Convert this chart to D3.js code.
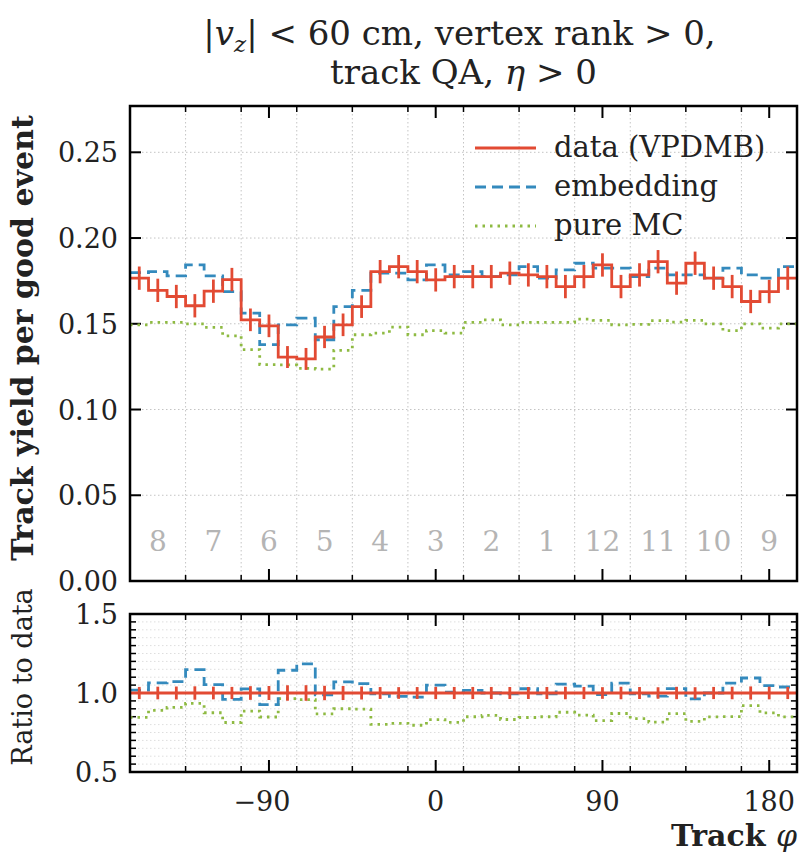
<!DOCTYPE html>
<html>
<head>
<meta charset="utf-8">
<script src="https://cdn.jsdelivr.net/npm/d3@7"></script>
<style>
body { margin: 0; background: #fff; }
text { font-family: "DejaVu Serif", "Liberation Serif", serif; }
</style>
</head>
<body>
<div class="chart-wrapper"></div>
<script>

// bin edges in degrees (10 degree bins from -165 to 195)
const edges = d3.range(-165, 196, 10)

const dataVals = [0.1766, 0.1695, 0.1659, 0.1605, 0.1690, 0.1758, 0.1523, 0.1488, 0.1306, 0.1295, 0.1423, 0.1494,
  0.1600, 0.1804, 0.1833, 0.1804, 0.1756, 0.1775, 0.1775, 0.1775, 0.1795, 0.1785, 0.1775, 0.1717,
  0.1775, 0.1843, 0.1717, 0.1785, 0.1862, 0.1737, 0.1853, 0.1766, 0.1717, 0.1630, 0.1688, 0.1766]
const dataErr = [0.0068, 0.0068, 0.0068, 0.0068, 0.0068, 0.0068, 0.0066, 0.0066, 0.0064, 0.0064, 0.0065, 0.0066,
  0.0066, 0.0068, 0.0068, 0.0068, 0.0068, 0.0068, 0.0068, 0.0068, 0.0068, 0.0068, 0.0068, 0.0068,
  0.0068, 0.0068, 0.0068, 0.0068, 0.0068, 0.0068, 0.0068, 0.0068, 0.0068, 0.0068, 0.0068, 0.0068]
const embVals = [0.1798, 0.1804, 0.1779, 0.1843, 0.1779, 0.1688, 0.1562, 0.1378, 0.1494, 0.1533, 0.1407, 0.1600,
  0.1695, 0.1795, 0.1795, 0.1756, 0.1843, 0.1785, 0.1804, 0.1775, 0.1785, 0.1833, 0.1766, 0.1814,
  0.1853, 0.1824, 0.1824, 0.1775, 0.1824, 0.1785, 0.1785, 0.1766, 0.1824, 0.1785, 0.1766, 0.1833]
const mcVals = [0.1494, 0.1508, 0.1508, 0.1500, 0.1479, 0.1430, 0.1349, 0.1262, 0.1260, 0.1240, 0.1235, 0.1345,
  0.1436, 0.1446, 0.1480, 0.1436, 0.1460, 0.1446, 0.1508, 0.1523, 0.1494, 0.1508, 0.1508, 0.1508,
  0.1527, 0.1520, 0.1494, 0.1496, 0.1518, 0.1510, 0.1520, 0.1500, 0.1460, 0.1500, 0.1475, 0.1500]

const sectorLabels = ['8', '7', '6', '5', '4', '3', '2', '1', '12', '11', '10', '9']
const sectorCenters = [-150, -120, -90, -60, -30, 0, 30, 60, 90, 120, 150, 180]
const sectorBounds = [-135, -105, -75, -45, -15, 15, 45, 75, 105, 135, 165]
const xMajor = [-90, 0, 90, 180]
const yTopTicks = [0, 0.05, 0.10, 0.15, 0.20, 0.25]
const yBotTicks = [0.5, 1.0, 1.5]

const seriesNames = ['data (VPDMB)', 'embedding', 'pure MC']
const red = '#E24A33', blue = '#348ABD', green = '#8EBA42'
const embDash = '11,6', mcDash = '2.5,5'

const width = 801, height = 855
const L = 130, R = 797, T1 = 106, B1 = 581, T2 = 614, B2 = 772

const svg = d3.select('.chart-wrapper')
.append('svg')
.attr('width', width)
.attr('height', height)

const x = d3.scaleLinear().domain([-165, 195]).range([L, R])
const yTop = d3.scaleLinear().domain([0, 0.277]).range([B1, T1])
const yBot = d3.scaleLinear().domain([0.5, 1.5]).range([B2, T2])

const ratioEmb = embVals.map((d, i) => d / dataVals[i])
const ratioMc = mcVals.map((d, i) => d / dataVals[i])
const ones = dataVals.map(() => 1)
const ratioErr = dataErr.map((d, i) => d / dataVals[i])

const grid = '#c4c4c4'

function stepPath(vals, y) {
  const pts = vals.map((v, i) => [edges[i], v])
  pts.push([edges[edges.length - 1], vals[vals.length - 1]])
  return d3.line().x(d => x(d[0])).y(d => y(d[1])).curve(d3.curveStepAfter)(pts)
}

function panel(top, bottom, y, yTicks, minorY) {
  const g = svg.append('g')
  g.append('defs').append('clipPath').attr('id', 'clip' + top)
  .append('rect').attr('x', L).attr('y', top).attr('width', R - L).attr('height', bottom - top)

  if (minorY) {
    g.append('g').selectAll('line').data(minorY).join('line')
    .attr('x1', L).attr('x2', R)
    .attr('y1', d => y(d)).attr('y2', d => y(d))
    .attr('stroke', '#dedede').attr('stroke-width', 1).attr('stroke-dasharray', '1.5,2.5')
  }
  g.append('g').selectAll('line').data(yTicks).join('line')
  .attr('x1', L).attr('x2', R)
  .attr('y1', d => y(d)).attr('y2', d => y(d))
  .attr('stroke', grid).attr('stroke-width', 1).attr('stroke-dasharray', '1.5,2.5')
  g.append('g').selectAll('line').data(sectorBounds).join('line')
  .attr('x1', d => x(d)).attr('x2', d => x(d))
  .attr('y1', top).attr('y2', bottom)
  .attr('stroke', grid).attr('stroke-width', 1).attr('stroke-dasharray', '1.5,2.5')

  // inward ticks on all four sides
  const ticks = g.append('g').attr('stroke', '#000')
  xMajor.forEach(v => {
    ticks.append('line').attr('x1', x(v)).attr('x2', x(v)).attr('y1', bottom).attr('y2', bottom - 12).attr('stroke-width', 2)
    ticks.append('line').attr('x1', x(v)).attr('x2', x(v)).attr('y1', top).attr('y2', top + 12).attr('stroke-width', 2)
  })
  sectorBounds.forEach(v => {
    ticks.append('line').attr('x1', x(v)).attr('x2', x(v)).attr('y1', bottom).attr('y2', bottom - 6).attr('stroke-width', 1.5)
    ticks.append('line').attr('x1', x(v)).attr('x2', x(v)).attr('y1', top).attr('y2', top + 6).attr('stroke-width', 1.5)
  })
  yTicks.forEach(v => {
    ticks.append('line').attr('x1', L).attr('x2', L + 11).attr('y1', y(v)).attr('y2', y(v)).attr('stroke-width', 2)
    ticks.append('line').attr('x1', R).attr('x2', R - 11).attr('y1', y(v)).attr('y2', y(v)).attr('stroke-width', 2)
  })
  if (minorY) {
    minorY.forEach(v => {
      ticks.append('line').attr('x1', L).attr('x2', L + 6).attr('y1', y(v)).attr('y2', y(v)).attr('stroke-width', 1.5)
      ticks.append('line').attr('x1', R).attr('x2', R - 6).attr('y1', y(v)).attr('y2', y(v)).attr('stroke-width', 1.5)
    })
  }
  return g
}

const gTop = panel(T1, B1, yTop, yTopTicks.slice(1), null)
const minorBot = d3.range(0.55, 1.5, 0.05).filter(v => Math.abs(v - 1) > 0.01)
const gBot = panel(T2, B2, yBot, yBotTicks, minorBot)

// sector numbers
gTop.append('g').selectAll('text').data(sectorLabels).join('text')
.attr('x', (d, i) => x(sectorCenters[i]))
.attr('y', 551)
.attr('text-anchor', 'middle')
.attr('fill', '#b4b4b4')
.attr('font-size', 28)
.text(d => d)

function drawSeries(g, y, clip, emb, mc, dat, err) {
  const s = g.append('g').attr('clip-path', 'url(#' + clip + ')').attr('fill', 'none')
  s.append('path').attr('d', stepPath(mc, y))
  .attr('stroke', green).attr('stroke-width', 2.8).attr('stroke-dasharray', mcDash)
  s.append('path').attr('d', stepPath(emb, y))
  .attr('stroke', blue).attr('stroke-width', 2.8).attr('stroke-dasharray', embDash)
  s.append('path').attr('d', stepPath(dat, y))
  .attr('stroke', red).attr('stroke-width', 2.8)
  s.append('g').selectAll('line').data(dat).join('line')
  .attr('x1', (d, i) => x((edges[i] + edges[i + 1]) / 2))
  .attr('x2', (d, i) => x((edges[i] + edges[i + 1]) / 2))
  .attr('y1', (d, i) => y(d - err[i]))
  .attr('y2', (d, i) => y(d + err[i]))
  .attr('stroke', red).attr('stroke-width', 2.8)
}

drawSeries(gTop, yTop, 'clip' + T1, embVals, mcVals, dataVals, dataErr)
drawSeries(gBot, yBot, 'clip' + T2, ratioEmb, ratioMc, ones, ratioErr)

// frames
;[[T1, B1], [T2, B2]].forEach(p => {
  svg.append('rect').attr('x', L).attr('y', p[0]).attr('width', R - L).attr('height', p[1] - p[0])
  .attr('fill', 'none').attr('stroke', '#000').attr('stroke-width', 2.5)
})

// tick labels
svg.append('g').selectAll('text').data(yTopTicks).join('text')
.attr('x', L - 12).attr('y', d => yTop(d) + 10)
.attr('text-anchor', 'end').attr('font-size', 27).attr('fill', '#222')
.text(d => d3.format('.2f')(d))

svg.append('g').selectAll('text').data(yBotTicks).join('text')
.attr('x', L - 12).attr('y', d => yBot(d) + 10)
.attr('text-anchor', 'end').attr('font-size', 27).attr('fill', '#222')
.text(d => d3.format('.1f')(d))

svg.append('g').selectAll('text').data(xMajor).join('text')
.attr('x', d => x(d) - (d < 0 ? 7 : 0)).attr('y', 811)
.attr('text-anchor', 'middle').attr('font-size', 27).attr('fill', '#222')
.text(d => d < 0 ? '\u2212' + Math.abs(d) : d)

// axis titles
svg.append('text')
.attr('transform', 'translate(33,338) rotate(-90)')
.attr('text-anchor', 'middle').attr('font-size', 30).attr('font-weight', 'bold').attr('fill', '#222')
.text('Track yield per good event')

svg.append('text')
.attr('transform', 'translate(32,677) rotate(-90)')
.attr('text-anchor', 'middle').attr('font-size', 27).attr('fill', '#222')
.text('Ratio to data')

const xt = svg.append('text')
.attr('x', R).attr('y', 846)
.attr('text-anchor', 'end').attr('font-size', 30).attr('fill', '#222')
xt.append('tspan').attr('font-weight', 'bold').text('Track ')
xt.append('tspan').attr('font-style', 'italic').text('\u03c6')

// title
const t1 = svg.append('text')
.attr('x', (L + R) / 2 - 4).attr('y', 45)
.attr('text-anchor', 'middle').attr('font-size', 34).attr('fill', '#222')
t1.append('tspan').text('|')
t1.append('tspan').attr('font-style', 'italic').text('v')
t1.append('tspan').attr('font-style', 'italic').attr('font-size', 23).attr('dy', 7).text('z')
t1.append('tspan').attr('dy', -7).text('| < 60 cm, vertex rank > 0,')

const t2 = svg.append('text')
.attr('x', (L + R) / 2).attr('y', 84)
.attr('text-anchor', 'middle').attr('font-size', 34).attr('fill', '#222')
t2.append('tspan').text('track QA, ')
t2.append('tspan').attr('font-style', 'italic').text('\u03b7')
t2.append('tspan').text(' > 0')

// legend
const legend = svg.append('g')
const legendStyles = [[red, null], [blue, embDash], [green, mcDash]]
seriesNames.forEach((name, i) => {
  const ly = 148 + i * 39
  legend.append('line')
  .attr('x1', 475).attr('x2', 536).attr('y1', ly).attr('y2', ly)
  .attr('stroke', legendStyles[i][0]).attr('stroke-width', 2.8)
  .attr('stroke-dasharray', legendStyles[i][1])
  legend.append('text')
  .attr('x', 554).attr('y', ly + 9)
  .attr('font-size', 29).attr('fill', '#222')
  .text(name)
})

</script>
</body>
</html>
